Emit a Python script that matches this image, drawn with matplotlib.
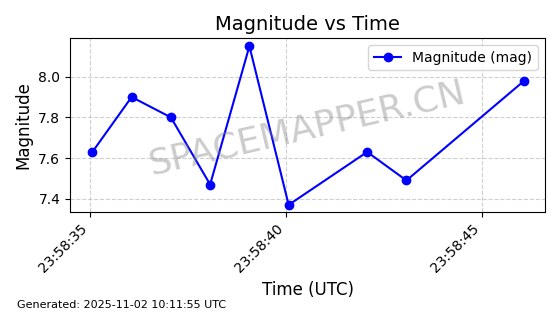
import matplotlib
matplotlib.use("Agg")
import matplotlib.pyplot as plt
import matplotlib.dates as mdates
import pandas as pd

# valores
tempos = ["2025-11-01 23:58:35.07", "2025-11-01 23:58:36.07", "2025-11-01 23:58:37.07",
          "2025-11-01 23:58:38.07", "2025-11-01 23:58:39.07", "2025-11-01 23:58:40.07",
          "2025-11-01 23:58:42.07", "2025-11-01 23:58:43.07", "2025-11-01 23:58:46.07"]
magnitudes = [7.63, 7.90, 7.80, 7.47, 8.15, 7.37, 7.63, 7.49, 7.98]
gerado = "Generated: 2025-11-02 10:11:55 UTC"

t = pd.to_datetime(tempos)

fig = plt.figure(figsize=(5.6, 3.14), dpi=100)
ax = fig.add_axes([70 / 560, 1 - 212 / 314, 475 / 560, 174 / 314])

ax.plot(t, magnitudes, color="blue", marker="o", markersize=6, linewidth=1.5,
        label="Magnitude (mag)")

ax.set_ylim(7.335, 8.19)
ax.set_xlim(pd.Timestamp("2025-11-01 23:58:34.50"), pd.Timestamp("2025-11-01 23:58:46.60"))
ax.set_yticks([7.4, 7.6, 7.8, 8.0])
ax.xaxis.set_major_locator(mdates.SecondLocator(bysecond=range(0, 60, 5)))
ax.xaxis.set_major_formatter(mdates.DateFormatter("%H:%M:%S"))
plt.setp(ax.get_xticklabels(), rotation=45, ha="right")

ax.grid(True, linestyle="--", alpha=0.6)
ax.set_title("Magnitude vs Time", fontsize=14)
ax.set_xlabel("Time (UTC)", fontsize=12)
ax.set_ylabel("Magnitude", fontsize=12)
ax.legend(loc="upper right")

ax.text(0.5, 0.48, "SPACEMAPPER.CN", transform=ax.transAxes, fontsize=26,
        color="gray", alpha=0.4, rotation=13, ha="center", va="center")

fig.text(0.03, 0.02, gerado, fontsize=8)

fig.savefig("out.png", dpi=100)
